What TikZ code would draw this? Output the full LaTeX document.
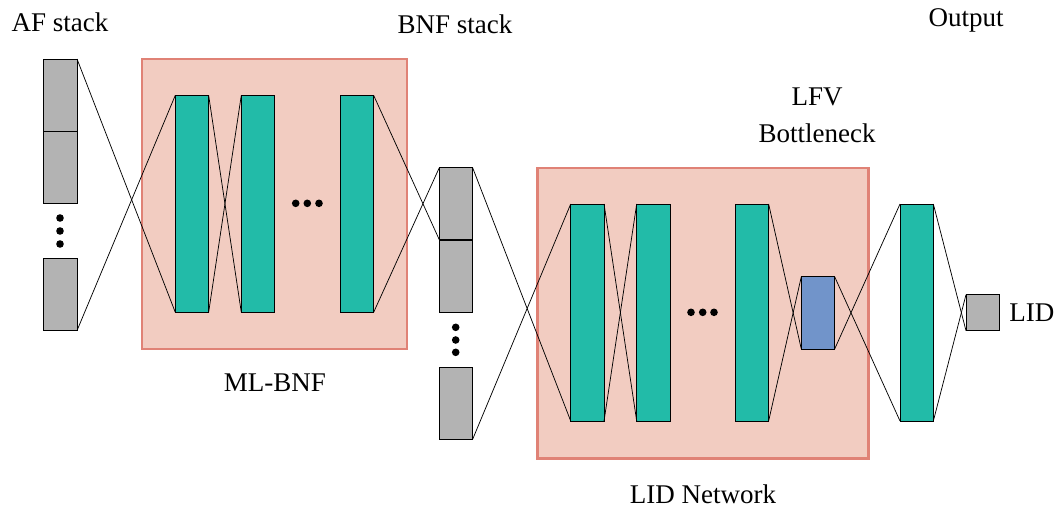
\documentclass[tikz,border=0pt]{standalone}
\usepackage{fontspec}
\setmainfont{Liberation Serif}

\begin{document}
\begin{tikzpicture}[x=0.75pt,y=0.75pt,yscale=-1,xscale=1,
    layer/.style={draw, line width=0.6pt, inner sep=0pt, outer sep=0pt, anchor=north west, minimum width=25pt},
    dense/.style={layer, fill={rgb, 255:red, 34; green, 187; blue, 168 }, minimum height=162.75pt},
    feat/.style={layer, fill={rgb, 255:red, 179; green, 179; blue, 179 }, minimum height=54pt},
    neck/.style={layer, fill={rgb, 255:red, 113; green, 148; blue, 202 }, minimum height=54.25pt},
    panel/.style={draw={rgb, 255:red, 224; green, 130; blue, 118 }, line width=1.8pt, fill={rgb, 255:red, 242; green, 204; blue, 193 }},
    wire/.style={draw, line width=0.55pt},
    lbl/.style={font=\fontsize{20.25pt}{24pt}\selectfont, inner sep=0pt}]
    \useasboundingbox (0,0) rectangle (1061,508);

    %Shape: panels
    \draw [panel] (142,58.7) rectangle (406.7,349) ;
    \draw [panel] (537.3,167.7) rectangle (868.3,458.3) ;

    %AF stack
    \node [feat] (af1) at (43.7,59) {};
    \node [feat] (af2) at (43.7,131) {};
    \node [feat] (af3) at (43.7,258.5) {};
    \foreach \y in {218,231,244} \fill (60,\y) circle (3.8) ;

    %ML-BNF
    \node [dense] (g1) at (175.3,95.3) {};
    \node [dense] (g2) at (241.3,95.3) {};
    \node [dense] (g3) at (340.3,95.3) {};
    \foreach \x in {295.7,307.3,319} \fill (\x,203.3) circle (3.8) ;

    %BNF stack
    \node [feat] (bnf1) at (439.3,167.7) {};
    \node [feat] (bnf2) at (439.3,240) {};
    \node [feat] (bnf3) at (439.3,367.3) {};
    \foreach \y in {327.3,340,352.3} \fill (455.7,\y) circle (3.8) ;

    %LID network
    \node [dense] (g4) at (570.7,204) {};
    \node [dense] (g5) at (636.7,204) {};
    \node [dense] (g6) at (735.3,204) {};
    \foreach \x in {691,702.7,714} \fill (\x,312.3) circle (3.8) ;
    \node [neck] (lfv) at (801.3,276.7) {};

    %Output
    \node [dense] (g7) at (900,204) {};
    \node [feat, minimum height=27pt] (lid) at (966,294.7) {};

    %Straight Lines
    \draw [wire] (af1.north east) -- (g1.south west) ;
    \draw [wire] (af3.south east) -- (g1.north west) ;
    \draw [wire] (g1.north east) -- (g2.south west) ;
    \draw [wire] (g1.south east) -- (g2.north west) ;
    \draw [wire] (g3.north east) -- (bnf1.south west) ;
    \draw [wire] (g3.south east) -- (bnf1.north west) ;
    \draw [wire] (bnf1.north east) -- (g4.south west) ;
    \draw [wire] (bnf3.south east) -- (g4.north west) ;
    \draw [wire] (g4.north east) -- (g5.south west) ;
    \draw [wire] (g4.south east) -- (g5.north west) ;
    \draw [wire] (g6.north east) -- (lfv.south west) ;
    \draw [wire] (g6.south east) -- (lfv.north west) ;
    \draw [wire] (lfv.north east) -- (g7.south west) ;
    \draw [wire] (lfv.south east) -- (g7.north west) ;
    \draw [wire] (g7.north east) -- (lid.south west) ;
    \draw [wire] (g7.south east) -- (lid.north west) ;

    %Labels
    \node [lbl] (aftext) at (60,22) {AF stack};
    \node [lbl] (bnftext) at (455,24) {BNF stack};
    \node [lbl] (outtext) at (966,20) {Output};
    \node [lbl] (lfvtext) at (817,97) {LFV};
    \node [lbl] (necktext) at (817,133) {Bottleneck};
    \node [lbl] (mltext) at (275,383) {ML-BNF};
    \node [lbl] (nettext) at (703,494) {LID Network};
    \node [lbl, anchor=west] (lidtext) at (1009,313) {LID};
\end{tikzpicture}
\end{document}
